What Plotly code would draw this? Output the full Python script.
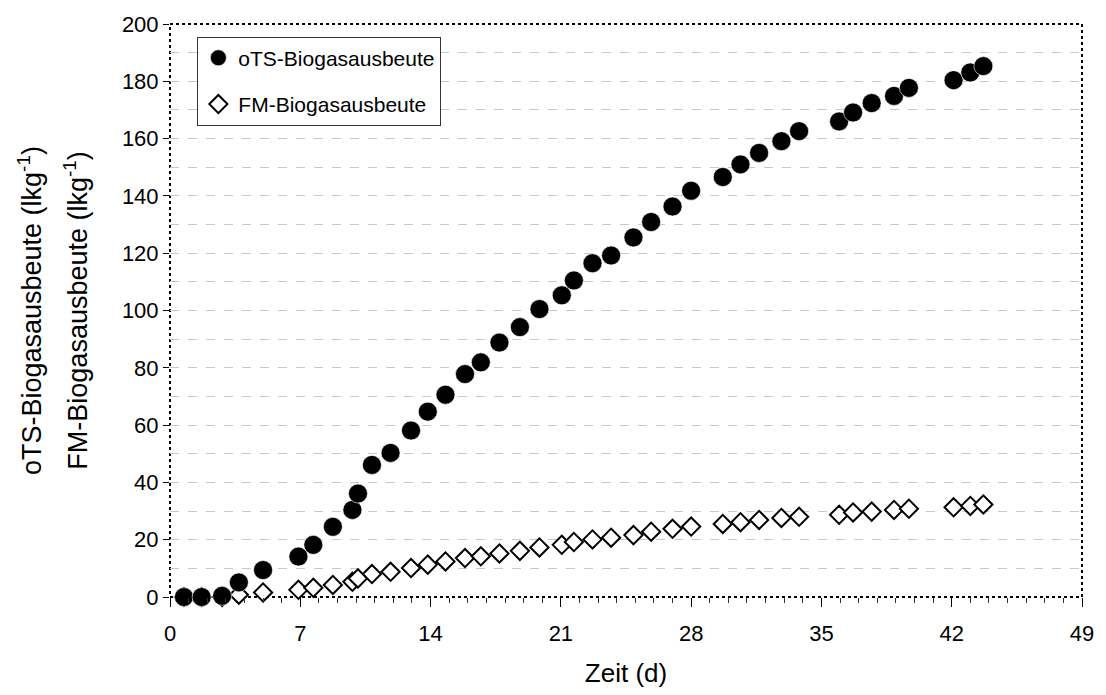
import plotly.graph_objects as go

# Versuchszeit in Tagen
zeit_d = [0.75, 1.7, 2.8, 3.7, 5.0, 6.9, 7.7, 8.75, 9.8, 10.1, 10.85, 11.85,
          12.95, 13.85, 14.8, 15.85, 16.7, 17.7, 18.8, 19.85, 21.05, 21.7,
          22.7, 23.7, 24.9, 25.85, 27.0, 28.0, 29.7, 30.65, 31.65, 32.85,
          33.8, 35.95, 36.7, 37.7, 38.9, 39.7, 42.1, 43.0, 43.7]

# Kumulierte Biogasausbeute bezogen auf oTS (l/kg)
ots_ausbeute = [0.0, 0.0, 0.4, 5.1, 9.4, 14.1, 18.2, 24.5, 30.4, 36.1, 46.1,
                50.3, 58.1, 64.7, 70.6, 77.8, 81.9, 88.8, 94.2, 100.5, 105.3,
                110.5, 116.5, 119.2, 125.5, 130.9, 136.3, 141.8, 146.6, 151.0,
                155.0, 159.1, 162.6, 166.0, 169.1, 172.4, 174.9, 177.7, 180.4,
                183.1, 185.3]

# Kumulierte Biogasausbeute bezogen auf Frischmasse (l/kg)
fm_ausbeute = [0.0, 0.0, 0.0, 0.8, 1.6, 2.5, 3.2, 4.2, 5.3, 6.5, 8.0, 8.8,
               10.1, 11.3, 12.4, 13.6, 14.2, 15.2, 16.1, 17.3, 18.2, 19.2,
               20.1, 20.7, 21.6, 22.8, 23.8, 24.6, 25.5, 26.1, 26.9, 27.6,
               28.0, 28.7, 29.5, 29.8, 30.4, 30.8, 31.3, 31.8, 32.3]

x_ticks = [0, 7, 14, 21, 28, 35, 42, 49]
y_ticks = [0, 20, 40, 60, 80, 100, 120, 140, 160, 180, 200]

FONT = "Liberation Sans, Arial, sans-serif"

fig = go.Figure()

fig.add_trace(go.Scatter(
    x=zeit_d, y=fm_ausbeute, mode="markers", name="FM-Biogasausbeute",
    legendgroup="fm", legendrank=2,
    marker=dict(symbol="diamond", size=14, color="white",
                line=dict(color="black", width=2)),
    cliponaxis=False,
))

fig.add_trace(go.Scatter(
    x=zeit_d, y=ots_ausbeute, mode="markers", name="oTS-Biogasausbeute",
    legendgroup="ots", legendrank=1,
    marker=dict(symbol="circle", size=19, color="black",
                line=dict(color="white", width=0.6)),
    cliponaxis=False,
))

# gestrichelter Rahmen um die Zeichenfläche
fig.add_shape(type="rect", xref="paper", yref="paper", x0=0, y0=0, x1=1, y1=1,
              line=dict(color="black", width=2, dash="dot"), layer="below")

# zweizeilige Beschriftung der y-Achse
fig.add_annotation(text="oTS-Biogasausbeute (lkg<sup>-1</sup>)", xref="paper",
                   yref="paper", x=-0.154, y=0.5, xanchor="center",
                   yanchor="middle", textangle=-90, showarrow=False,
                   font=dict(family=FONT, size=27, color="black"))
fig.add_annotation(text="FM-Biogasausbeute (lkg<sup>-1</sup>)", xref="paper",
                   yref="paper", x=-0.104, y=0.5, xanchor="center",
                   yanchor="middle", textangle=-90, showarrow=False,
                   font=dict(family=FONT, size=27, color="black"))

fig.update_layout(
    width=1106, height=695,
    margin=dict(l=170, r=16, t=24, b=97),
    paper_bgcolor="white", plot_bgcolor="white",
    font=dict(family=FONT, size=22, color="black"),
    showlegend=True,
    legend=dict(x=0.03, y=0.978, xanchor="left", yanchor="top",
                bgcolor="white", bordercolor="#333333", borderwidth=1,
                font=dict(family=FONT, size=21, color="black"),
                tracegroupgap=16, itemwidth=30),
)

fig.update_xaxes(
    range=[0, 49], tickvals=x_ticks, ticktext=[str(v) for v in x_ticks],
    ticks="outside", ticklen=9, tickcolor="black", tickwidth=1,
    ticklabelstandoff=8,
    minor=dict(dtick=1, ticks="outside", ticklen=5, tickcolor="#333333",
               showgrid=False),
    showgrid=False, zeroline=False, showline=False,
    title=dict(text="Zeit (d)", font=dict(family=FONT, size=26), standoff=18),
    tickfont=dict(family=FONT, size=22),
)

fig.update_yaxes(
    range=[0, 200], tickvals=y_ticks, ticktext=[str(v) for v in y_ticks],
    ticks="outside", ticklen=6, tickcolor="black", tickwidth=1,
    showgrid=True, gridcolor="#c8c8c8", gridwidth=1, griddash="dash",
    minor=dict(dtick=10, showgrid=True, gridcolor="#c8c8c8", gridwidth=1,
               griddash="dash", ticks=""),
    zeroline=False, showline=False,
    tickfont=dict(family=FONT, size=22),
)

fig.write_html("out.html")
